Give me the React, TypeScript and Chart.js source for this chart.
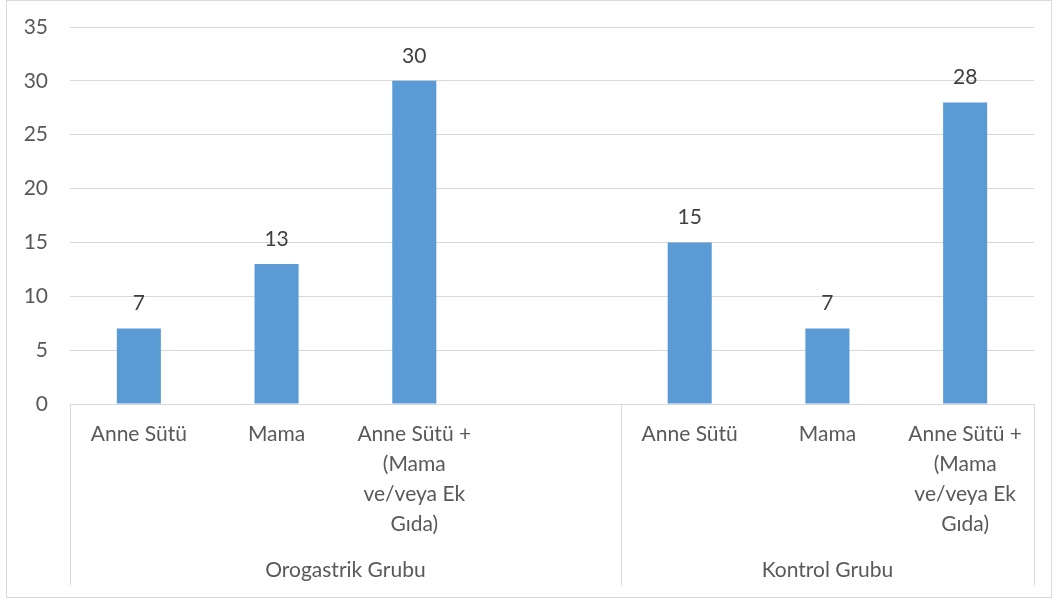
import React, { useEffect, useRef } from "react";
import { Chart, registerables } from "chart.js";

Chart.register(...registerables);

const categories: (string | string[])[] = [
  ["Anne Sütü"],
  ["Mama"],
  ["Anne Sütü +", "(Mama", "ve/veya Ek", "Gıda)"],
  "",
  ["Anne Sütü"],
  ["Mama"],
  ["Anne Sütü +", "(Mama", "ve/veya Ek", "Gıda)"],
];
const values: (number | null)[] = [7, 13, 30, null, 15, 7, 28];
const groupLabels = ["Orogastrik Grubu", "Kontrol Grubu"];
const groupStarts = [0, 4];
const groupEnds = [3, 6];
const yTicks = [0, 5, 10, 15, 20, 25, 30, 35];

const FONT = "Lato, 'Open Sans', sans-serif";
const FONT_SIZE = 21;

const decorPlugin = {
  id: "decor",
  afterDraw(chart: any) {
    const ctx = chart.ctx;
    const x = chart.scales.x;
    ctx.save();
    ctx.strokeStyle = "#D9D9D9";
    ctx.lineWidth = 1;
    ctx.strokeRect(6.5, 0.5, 1045, 597);
    const top = x.top;
    const bottom = 585;
    const bounds: number[] = [];
    groupStarts.forEach((s, i) => {
      const e = groupEnds[i];
      const left =
        s === 0 ? x.left : (x.getPixelForValue(s - 1) + x.getPixelForValue(s)) / 2;
      const right =
        e === categories.length - 1
          ? x.right
          : (x.getPixelForValue(e) + x.getPixelForValue(e + 1)) / 2;
      bounds.push(left, right);
      ctx.fillStyle = "#595959";
      ctx.font = `${FONT_SIZE}px ${FONT}`;
      ctx.textAlign = "center";
      ctx.textBaseline = "middle";
      ctx.fillText(groupLabels[i], (left + right) / 2, 570);
    });
    const uniq = Array.from(new Set(bounds.map((b) => Math.round(b))));
    ctx.strokeStyle = "#D9D9D9";
    uniq.forEach((b) => {
      ctx.beginPath();
      ctx.moveTo(b + 0.5, top);
      ctx.lineTo(b + 0.5, bottom);
      ctx.stroke();
    });
    ctx.restore();
  },
  afterDatasetsDraw(chart: any) {
    const ctx = chart.ctx;
    const meta = chart.getDatasetMeta(0);
    ctx.save();
    ctx.fillStyle = "#404040";
    ctx.font = `${FONT_SIZE}px ${FONT}`;
    ctx.textAlign = "center";
    ctx.textBaseline = "middle";
    meta.data.forEach((el: any, i: number) => {
      const v = values[i];
      if (v === null || v === undefined) return;
      ctx.fillText(String(v), el.x, el.y - 25);
    });
    ctx.restore();
  },
};

export default function App() {
  const ref = useRef<HTMLCanvasElement | null>(null);
  useEffect(() => {
    document.body.style.margin = "0";
    if (!ref.current) return;
    const chart = new Chart(ref.current, {
      type: "bar",
      data: {
        labels: categories,
        datasets: [
          {
            data: values,
            backgroundColor: "#5B9BD5",
            borderWidth: 0,
            categoryPercentage: 1,
            barPercentage: 0.32,
          },
        ],
      },
      options: {
        responsive: false,
        animation: false,
        layout: { padding: { left: 0, top: 27, right: 23, bottom: 0 } },
        plugins: { legend: { display: false }, tooltip: { enabled: false } },
        scales: {
          x: {
            grid: { display: false, drawTicks: false },
            border: { display: true, color: "#D9D9D9", width: 1 },
            ticks: {
              autoSkip: false,
              maxRotation: 0,
              minRotation: 0,
              padding: 15,
              color: "#595959",
              font: { family: FONT, size: FONT_SIZE, lineHeight: 1.43 },
            },
            afterFit(scale: any) {
              scale.height = 199;
              scale.paddingLeft = 0;
              scale.paddingRight = 0;
            },
          },
          y: {
            min: 0,
            max: 35,
            afterBuildTicks(scale: any) {
              scale.ticks = yTicks.map((v) => ({ value: v }));
            },
            grid: { color: "#D9D9D9", drawTicks: false },
            border: { display: false },
            ticks: {
              padding: 22,
              color: "#595959",
              font: { family: FONT, size: FONT_SIZE },
            },
            afterFit(scale: any) {
              scale.width = 70;
              scale.paddingTop = 0;
              scale.paddingBottom = 0;
            },
          },
        },
      },
      plugins: [decorPlugin],
    });
    return () => chart.destroy();
  }, []);
  return (
    <div style={{ position: "absolute", left: 0, top: 0, width: 1057, height: 603, background: "#fff" }}>
      <canvas ref={ref} width={1057} height={603} />
    </div>
  );
}
